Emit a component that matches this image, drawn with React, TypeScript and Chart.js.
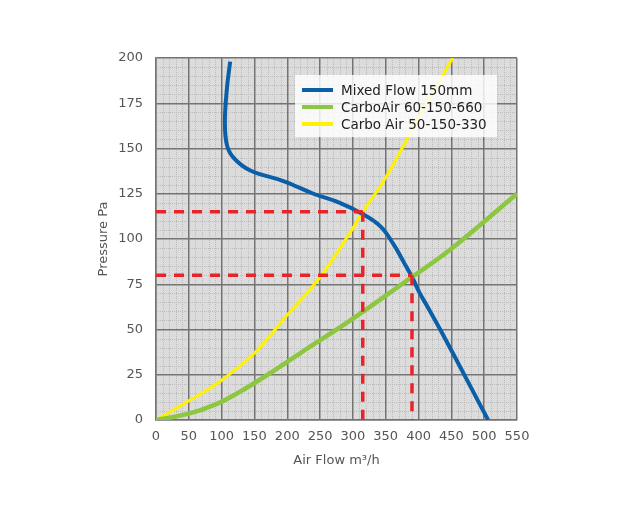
import { useEffect, useRef } from 'react';
import Chart from 'chart.js/auto';

// Mixed Flow 150mm fan curve (air flow m3/h, pressure Pa)
const mixedFlowX = [113, 108, 105, 108, 118, 143, 194, 240, 280, 314, 342, 362, 377, 390, 402, 413, 433, 474, 506];
const mixedFlowY = [198, 183, 165, 152, 145, 138, 132, 125, 120, 114, 107, 97, 87.5, 79, 70, 63, 50, 22, 0];

// CarboAir 60-150-660 filter resistance
const carbo660X = [0, 50, 90, 125, 170, 220, 296, 390, 448, 550];
const carbo660Y = [0, 3.5, 8.5, 15, 25, 37, 55, 79, 94, 125];

// Carbo Air 50-150-330 filter resistance
const carbo330X = [0, 52, 100, 150, 200, 250, 300, 315, 350, 400, 452];
const carbo330Y = [0, 11, 22, 37, 58, 79, 106, 115, 134, 167, 200];

// operating points (dashed red guides)
const opFlow = [315, 390];
const opPressure = [115, 80];

const seriesNames = ['Mixed Flow 150mm', 'CarboAir 60-150-660', 'Carbo Air 50-150-330'];
const seriesColors = ['#0b5fa8', '#8dc63f', '#fff200'];

const toPoints = (xs: number[], ys: number[]) => xs.map((x, i) => ({ x, y: ys[i] }));

const FONT = "'DejaVu Sans', sans-serif";

const gridPaper = {
  id: 'gridPaper',
  beforeDraw(chart: any) {
    const { ctx, chartArea: a, scales } = chart;
    ctx.save();
    ctx.fillStyle = '#dcdcdc';
    ctx.fillRect(a.left, a.top, a.width, a.height);
    ctx.strokeStyle = '#bdbdbd';
    ctx.lineWidth = 1;
    ctx.setLineDash([1, 1]);
    scales.x.ticks.forEach((t: any) => {
      if (t.value % 50 === 0) return;
      const px = Math.round(scales.x.getPixelForValue(t.value)) + 0.5;
      ctx.beginPath();
      ctx.moveTo(px, a.top);
      ctx.lineTo(px, a.bottom);
      ctx.stroke();
    });
    scales.y.ticks.forEach((t: any) => {
      if (t.value % 25 === 0) return;
      const py = Math.round(scales.y.getPixelForValue(t.value)) + 0.5;
      ctx.beginPath();
      ctx.moveTo(a.left, py);
      ctx.lineTo(a.right, py);
      ctx.stroke();
    });
    ctx.restore();
  },
};

// red dashed guides to the operating points, drawn on the chart's scales
const operatingGuides = {
  id: 'operatingGuides',
  afterDatasetsDraw(chart: any) {
    const { ctx, scales } = chart;
    const x0 = scales.x.getPixelForValue(0);
    const y0 = scales.y.getPixelForValue(0);
    ctx.save();
    ctx.strokeStyle = '#e8232a';
    ctx.lineWidth = 3.5;
    ctx.lineCap = 'butt';
    ctx.setLineDash([10, 8]);
    opFlow.forEach((f, k) => {
      const px = scales.x.getPixelForValue(f);
      const py = scales.y.getPixelForValue(opPressure[k]);
      ctx.beginPath();
      ctx.moveTo(x0, py);
      ctx.lineTo(px, py);
      ctx.stroke();
      ctx.beginPath();
      ctx.moveTo(px, py);
      ctx.lineTo(px, y0);
      ctx.stroke();
    });
    ctx.restore();
  },
};

const legendBox = {
  id: 'legendBox',
  afterDatasetsDraw(chart: any) {
    const { ctx, chartArea: a } = chart;
    const left = a.left + 139;
    const top = a.top + 17;
    ctx.save();
    ctx.fillStyle = 'rgba(255,255,255,0.82)';
    ctx.fillRect(left, top, 202, 62);
    ctx.font = `13.5px ${FONT}`;
    ctx.textBaseline = 'middle';
    seriesNames.forEach((name, i) => {
      const y = top + 15 + i * 17;
      ctx.strokeStyle = seriesColors[i];
      ctx.lineWidth = 4;
      ctx.beginPath();
      ctx.moveTo(left + 7, y);
      ctx.lineTo(left + 38, y);
      ctx.stroke();
      ctx.fillStyle = '#222';
      ctx.fillText(name, left + 46, y + 1);
    });
    ctx.restore();
  },
};

export default function App() {
  const chartRef = useRef<HTMLCanvasElement>(null);
  const chartInstance = useRef<Chart | null>(null);

  useEffect(() => {
    if (!chartRef.current) return;
    if (chartInstance.current) chartInstance.current.destroy();

    const curve = (i: number, data: any[], width: number, order: number) => ({
      label: seriesNames[i],
      data,
      borderColor: seriesColors[i],
      borderWidth: width,
      pointRadius: 0,
      tension: 0.4,
      fill: false,
      order,
    });

    chartInstance.current = new Chart(chartRef.current, {
      type: 'line',
      data: {
        datasets: [
          curve(0, toPoints(mixedFlowX, mixedFlowY), 4, 2),
          curve(1, toPoints(carbo660X, carbo660Y), 4.5, 1),
          curve(2, toPoints(carbo330X, carbo330Y), 3, 3),
        ],
      },
      options: {
        responsive: true,
        maintainAspectRatio: false,
        animation: false,
        layout: { padding: { left: 95, right: 108, top: 58, bottom: 50 } },
        plugins: {
          legend: { display: false },
          tooltip: { enabled: false },
        },
        scales: {
          x: {
            type: 'linear',
            min: 0,
            max: 550,
            afterFit: (s: any) => { s.height = 50; },
            ticks: {
              stepSize: 10,
              autoSkip: false,
              maxRotation: 0,
              padding: 9,
              color: '#555',
              font: { family: FONT, size: 13 },
              callback: (v: any) => (v % 50 === 0 ? String(v) : ''),
            },
            grid: {
              drawTicks: false,
              color: (c: any) => (c.tick && c.tick.value % 50 === 0 ? '#747474' : 'rgba(0,0,0,0)'),
              lineWidth: (c: any) => (c.tick && c.tick.value % 50 === 0 ? 1.5 : 0),
            },
            border: { color: '#747474', width: 1.5 },
            title: {
              display: true,
              text: 'Air Flow m³/h',
              color: '#555',
              font: { family: FONT, size: 13 },
              padding: { top: 2, bottom: 2 },
            },
          },
          y: {
            type: 'linear',
            min: 0,
            max: 200,
            afterFit: (s: any) => { s.width = 61; },
            ticks: {
              stepSize: 5,
              autoSkip: false,
              padding: 13,
              color: '#555',
              font: { family: FONT, size: 13 },
              callback: (v: any) => (v % 25 === 0 ? String(v) : ''),
            },
            grid: {
              drawTicks: false,
              color: (c: any) => (c.tick && c.tick.value % 25 === 0 ? '#747474' : 'rgba(0,0,0,0)'),
              lineWidth: (c: any) => (c.tick && c.tick.value % 25 === 0 ? 1.5 : 0),
            },
            border: { color: '#747474', width: 1.5 },
            title: {
              display: true,
              text: 'Pressure Pa',
              color: '#555',
              font: { family: FONT, size: 13 },
              padding: { top: 1, bottom: 1 },
            },
          },
        },
      },
      plugins: [gridPaper, operatingGuides, legendBox],
    });

    return () => {
      if (chartInstance.current) {
        chartInstance.current.destroy();
        chartInstance.current = null;
      }
    };
  }, []);

  return (
    <div style={{ position: 'fixed', left: 0, top: 0, width: 625, height: 520, background: '#fff' }}>
      <canvas ref={chartRef} />
    </div>
  );
}
